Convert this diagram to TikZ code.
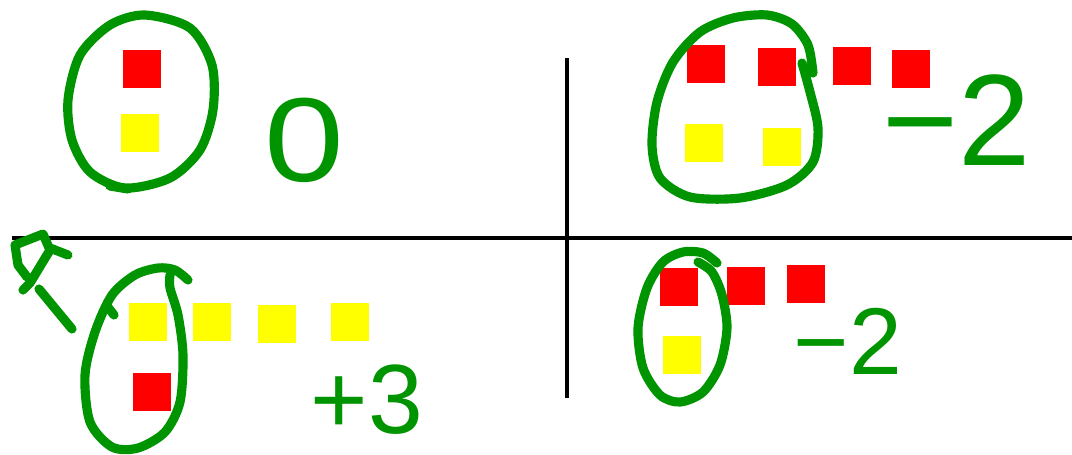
\documentclass[tikz,border=0pt]{standalone}
\usepackage{fontspec}
\setmainfont{Liberation Sans}
\definecolor{penred}{RGB}{255,0,0}
\definecolor{penyellow}{RGB}{255,255,0}
\definecolor{pengreen}{RGB}{0,148,0}
\tikzset{
  pen/.style={draw=pengreen,line width=5.2pt,line cap=round,line join=round},
  axis/.style={draw=black,line width=2.8pt},
  tile/.style={fill=#1,draw=none},
  score/.style={text=pengreen,inner sep=0pt}
}
\begin{document}
\begin{tikzpicture}[x=0.02cm,y=-0.02cm]
        \useasboundingbox (0,0) rectangle (1072,454);
        % axes
        \draw[axis] (12,238) -- (1072,238);
        \draw[axis] (567,58) -- (567,398);
        % tiles
        \foreach \x/\y/\col in {123/50/penred,121/114/penyellow,
            687/45/penred,758/48/penred,833/47/penred,892/50/penred,685/124/penyellow,763/128/penyellow,
            129/303/penyellow,193/303/penyellow,258/305/penyellow,331/303/penyellow,133/373/penred,
            660/268/penred,727/267/penred,787/265/penred,663/336/penyellow} {
            \fill[tile=\col] (\x,\y) rectangle +(38,38);
        }
        % loops
        \draw[pen] plot[smooth cycle] coordinates {(145,15) (190,28) (212,65) (213,110) (200,150) (170,178) (125,188) (90,172) (72,140) (68,100) (80,55) (110,25)};
        \draw[pen] (110,186) -- (128,189);
        \draw[pen] plot[smooth] coordinates {(813,73) (808,45) (792,24) (767,15) (733,18) (700,32) (673,62) (657,102) (652,145) (660,178) (690,197) (740,198) (787,185) (813,162) (818,128) (810,92) (802,63)};
        \draw[pen] plot[smooth] coordinates {(188,280) (175,270) (158,268) (135,275) (112,295) (95,332) (85,375) (90,422) (112,447) (138,448) (165,432) (180,402) (183,355) (178,315) (170,288) (170,275)};
        \draw[pen] (107,306) -- (114,315);
        \draw[pen] plot[smooth] coordinates {(717,263) (703,253) (683,252) (663,262) (647,288) (638,328) (643,368) (660,395) (680,402) (703,392) (720,365) (727,328) (722,295) (712,272) (698,262)};
        % scribble
        \draw[pen] (27,277) -- (18,265) -- (15,245) -- (43,234) -- (50,250) -- (30,283) -- (23,290);
        \draw[pen] (50,248) -- (68,255);
        \draw[pen] (39,289) -- (72,329);
        % scores
        \node[score,font=\fontsize{68}{68}\selectfont,xscale=1.2] (zero) at (304,140) {0};
        \node[score,font=\fontsize{74}{74}\selectfont] (minustwoa) at (957,120) {−2};
        \node[score,font=\fontsize{56}{56}\selectfont] (plusthree) at (367,400) {+3};
        \node[score,font=\fontsize{54}{54}\selectfont] (minustwob) at (848,341) {−2};
    \end{tikzpicture}
\end{document}
